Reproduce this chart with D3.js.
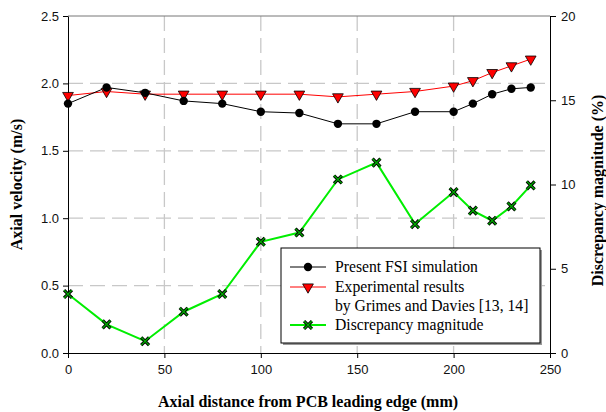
<!DOCTYPE html>
<html>
<head>
<meta charset="utf-8">
<script src="https://cdn.jsdelivr.net/npm/d3@7"></script>
<style>
  body { margin: 0; background: #fff; }
  svg { display: block; }
</style>
</head>
<body>
<svg id="chart" width="606" height="412"></svg>
<script>
// axial positions (mm)
var distance = [0, 20, 40, 60, 80, 100, 120, 140, 160, 180, 200, 210, 220, 230, 240];
// present FSI simulation (m/s)
var fsiVelocity = [1.85, 1.97, 1.93, 1.87, 1.85, 1.79, 1.78, 1.70, 1.70, 1.79, 1.79, 1.85, 1.92, 1.96, 1.97];
// experimental, Grimes and Davies (m/s)
var expVelocity = [1.91, 1.94, 1.92, 1.92, 1.92, 1.92, 1.92, 1.90, 1.92, 1.94, 1.98, 2.02, 2.08, 2.13, 2.18];
// discrepancy (%)
var discrepancy = [3.5, 1.7, 0.7, 2.45, 3.5, 6.6, 7.15, 10.3, 11.3, 7.65, 9.55, 8.45, 7.85, 8.7, 9.95];

var xTicks = [0, 50, 100, 150, 200, 250];
var yTicks = [0.0, 0.5, 1.0, 1.5, 2.0, 2.5];
var y2Ticks = [0, 5, 10, 15, 20];

var svg = d3.select("#chart");
var plotLeft = 68, plotRight = 550, plotTop = 16, plotBottom = 353;

var x = d3.scaleLinear().domain([0, 250]).range([plotLeft, plotRight]);
var y = d3.scaleLinear().domain([0, 2.5]).range([plotBottom, plotTop]);
var y2 = d3.scaleLinear().domain([0, 20]).range([plotBottom, plotTop]);

var serif = "'Liberation Serif', 'Times New Roman', serif";
var sans = "'Liberation Sans', Arial, sans-serif";

// grid
svg.append("g").selectAll("line").data([50, 100, 150, 200]).enter().append("line")
    .attr("x1", function(d){ return x(d); }).attr("x2", function(d){ return x(d); })
    .attr("y1", plotTop).attr("y2", plotBottom)
    .style("stroke", "#c8c8c8").style("stroke-width", 1.3)
    .style("stroke-dasharray", "15,7");
svg.append("g").selectAll("line").data([0.5, 1.0, 1.5, 2.0]).enter().append("line")
    .attr("x1", plotLeft).attr("x2", plotRight)
    .attr("y1", function(d){ return y(d); }).attr("y2", function(d){ return y(d); })
    .style("stroke", "#c8c8c8").style("stroke-width", 1.3)
    .style("stroke-dasharray", "15,7");

// top frame
svg.append("line").attr("x1", plotLeft).attr("x2", plotRight).attr("y1", plotTop).attr("y2", plotTop)
    .style("stroke", "#777").style("stroke-width", 1);

// axes
function styleAxis(g){
    g.select(".domain").style("stroke", "#000");
    g.selectAll(".tick line").style("stroke", "#000");
    g.selectAll("text").style("font-family", sans).style("font-size", "13px").style("fill", "#111");
}
svg.append("g").attr("transform", "translate(0," + plotBottom + ")")
    .call(d3.axisBottom(x).tickValues(xTicks).tickSize(5).tickSizeOuter(0).tickPadding(7).tickFormat(d3.format("d")))
    .call(styleAxis);
svg.append("g").attr("transform", "translate(" + plotLeft + ",0)")
    .call(d3.axisLeft(y).tickValues(yTicks).tickSize(5).tickSizeOuter(0).tickPadding(4).tickFormat(d3.format(".1f")))
    .call(styleAxis);
svg.append("g").attr("transform", "translate(" + plotRight + ",0)")
    .call(d3.axisRight(y2).tickValues(y2Ticks).tickSize(6).tickSizeOuter(0).tickPadding(5).tickFormat(d3.format("d")))
    .call(styleAxis);

// axis titles
svg.append("text").text("Axial distance from PCB leading edge (mm)")
    .attr("x", 308).attr("y", 407).attr("text-anchor", "middle")
    .style("font-family", serif).style("font-weight", "bold").style("font-size", "16px");
svg.append("text").text("Axial velocity (m/s)")
    .attr("transform", "translate(22," + ((plotTop + plotBottom) / 2) + ") rotate(-90)")
    .attr("text-anchor", "middle")
    .style("font-family", serif).style("font-weight", "bold").style("font-size", "16px");
svg.append("text").text("Discrepancy magnitude (%)")
    .attr("transform", "translate(603," + ((plotTop + plotBottom) / 2 + 6) + ") rotate(-90)")
    .attr("text-anchor", "middle")
    .style("font-family", serif).style("font-weight", "bold").style("font-size", "16px");

// series
var triangle = d3.symbol().type(d3.symbolTriangle).size(50);
var cross = d3.symbol().type(d3.symbolX).size(42);

function drawLine(vals, scale, color, width){
    var line = d3.line()
        .x(function(d, i){ return x(distance[i]); })
        .y(function(d){ return scale(d); });
    svg.append("path").datum(vals).attr("d", line)
        .style("fill", "none").style("stroke", color).style("stroke-width", width);
}
drawLine(discrepancy, y2, "#00ee00", 2);
drawLine(expVelocity, y, "#ff0000", 1);
drawLine(fsiVelocity, y, "#000", 1);

function drawCross(sel){
    sel.append("path").attr("d", cross).style("fill", "none")
        .style("stroke", "#000").style("stroke-width", 3.2);
    sel.append("path").attr("d", cross).style("fill", "none")
        .style("stroke", "#00aa00").style("stroke-width", 1.3);
}
function drawTri(sel){
    sel.append("path").attr("d", triangle).attr("transform", "rotate(180)")
        .style("fill", "#ff0000").style("stroke", "#000").style("stroke-width", 0.8);
}

svg.append("g").selectAll("g").data(discrepancy).enter().append("g")
    .attr("transform", function(d, i){ return "translate(" + x(distance[i]) + "," + y2(d) + ")"; })
    .call(drawCross);
svg.append("g").selectAll("g").data(expVelocity).enter().append("g")
    .attr("transform", function(d, i){ return "translate(" + x(distance[i]) + "," + y(d) + ")"; })
    .call(drawTri);
svg.append("g").selectAll("circle").data(fsiVelocity).enter().append("circle")
    .attr("cx", function(d, i){ return x(distance[i]); })
    .attr("cy", function(d){ return y(d); })
    .attr("r", 4.2).style("fill", "#000");

// legend
var lg = svg.append("g");
lg.append("rect").attr("x", 283).attr("y", 250).attr("width", 259).attr("height", 95).style("fill", "#999");
lg.append("rect").attr("x", 281).attr("y", 248).attr("width", 259).attr("height", 95)
    .style("fill", "#fff").style("stroke", "#000").style("stroke-width", 1);

var legendItems = [
    {label: ["Present FSI simulation"], y: 267, color: "#000", w: 1, mark: "circle"},
    {label: ["Experimental results", "by Grimes and Davies [13, 14]"], y: 287, color: "#ff0000", w: 1, mark: "tri"},
    {label: ["Discrepancy magnitude"], y: 325, color: "#00ee00", w: 2, mark: "cross"}
];
legendItems.forEach(function(it){
    lg.append("line").attr("x1", 290).attr("x2", 326).attr("y1", it.y).attr("y2", it.y)
        .style("stroke", it.color).style("stroke-width", it.w);
    var m = lg.append("g").attr("transform", "translate(308," + it.y + ")");
    if(it.mark == "circle") m.append("circle").attr("r", 4.2).style("fill", "#000");
    if(it.mark == "tri") drawTri(m);
    if(it.mark == "cross") drawCross(m);
    it.label.forEach(function(t, k){
        lg.append("text").text(t).attr("x", 335).attr("y", it.y + 5 + k * 19)
            .style("font-family", serif).style("font-size", "15.7px").style("fill", "#000");
    });
});
</script>
</body>
</html>
